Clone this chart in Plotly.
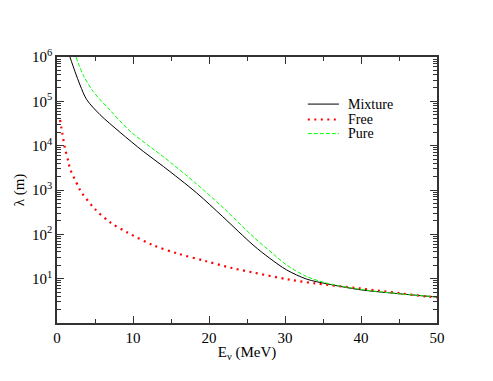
import plotly.graph_objects as go

# Mixture (solid black)
mix_x = [1.7, 2.37, 3.03, 3.9, 5.66, 8.3, 11.36, 14.0, 18.4, 21.8, 25.8, 28.0, 30.2, 32.85, 35.5, 39.9, 45.0, 50.0]
mix_y = [1e6, 4.68e5, 2.34e5, 1.1e5, 5.0e4, 2.0e4, 7.41e3, 3.39e3, 851, 251, 57.5, 28.8, 15.8, 9.77, 7.67, 5.62, 4.57, 3.85]

# Free (dotted red)
free_x = [0.4, 0.7, 1.05, 1.5, 1.7, 2.8, 3.25, 5.0, 7.0, 9.4, 12.6, 16.0, 19.5, 23.0, 25.8, 30.2, 33.7, 39.9, 48.6, 50.0]
free_y = [3.8e4, 1.9e4, 8.7e3, 4.4e3, 3.1e3, 1.2e3, 870, 372, 186, 107, 57.5, 36.3, 25.1, 17.4, 13.8, 9.77, 7.94, 6.03, 3.98, 3.8]

# Pure (dashed green)
pure_x = [2.5, 3.46, 4.78, 6.97, 9.6, 12.2, 14.0, 18.4, 22.0, 25.8, 28.5, 30.2, 32.85, 35.5, 39.9, 45.0, 50.0]
pure_y = [1e6, 3.89e5, 1.66e5, 6.31e4, 2.14e4, 9.55e3, 5.62e3, 1.35e3, 380, 89.1, 35.5, 20.4, 11.2, 7.94, 5.75, 4.57, 3.89]

series_names = ["Mixture", "Free", "Pure"]
series_colors = ["black", "#ff0000", "#00ff00"]
series_dash = ["solid", "2px,4.5px", "4px,2px"]
series_width = [1, 2.2, 1]

ytick_vals = [10, 100, 1000, 1e4, 1e5, 1e6]
ytick_text = ["10<sup>1</sup>", "10<sup>2</sup>", "10<sup>3</sup>", "10<sup>4</sup>", "10<sup>5</sup>", "10<sup>6</sup>"]

font = "Liberation Serif, Times New Roman, serif"

fig = go.Figure()
for xs, ys, i in [(mix_x, mix_y, 0), (free_x, free_y, 1), (pure_x, pure_y, 2)]:
    fig.add_trace(go.Scatter(x=xs, y=ys, mode="lines", name=series_names[i], showlegend=False,
                             line=dict(color=series_colors[i], width=series_width[i],
                                       dash=series_dash[i], shape="spline", smoothing=0.9)))

axis_common = dict(showline=True, linecolor="#333333", linewidth=1.5, mirror="allticks",
                   ticks="inside", tickcolor="#333333", tickwidth=1.2, showgrid=False,
                   zeroline=False, automargin=False,
                   tickfont=dict(family=font, size=15, color="black"))

fig.update_xaxes(range=[0, 50], tick0=0, dtick=10, ticklen=7,
                 minor=dict(ticks="inside", dtick=5, ticklen=4, tickcolor="#333333", showgrid=False),
                 title=dict(text="E<sub>ν</sub> (MeV)", font=dict(family=font, size=15, color="black"), standoff=2),
                 **axis_common)
fig.update_yaxes(type="log", range=[0, 6], tickvals=ytick_vals, ticktext=ytick_text, ticklen=7,
                 minor=dict(ticks="inside", dtick="D1", ticklen=4, tickcolor="#333333", showgrid=False),
                 title=dict(text="λ (m)", font=dict(family=font, size=15, color="black"), standoff=4),
                 **axis_common)

# manual legend (paper coordinates)
leg_rows = [0.823, 0.765, 0.712]
for i, yy in enumerate(leg_rows):
    fig.add_shape(type="line", xref="paper", yref="paper", x0=0.66, x1=0.742, y0=yy, y1=yy,
                  line=dict(color=series_colors[i], width=series_width[i], dash=series_dash[i]))
    fig.add_annotation(xref="paper", yref="paper", x=0.763, y=yy, text=series_names[i],
                       showarrow=False, xanchor="left", yanchor="middle", borderpad=0,
                       font=dict(family=font, size=14, color="black"))

# page body has an 8px default margin: figure is shrunk by 8px and margins compensated
fig.update_layout(
    width=485, height=373,
    margin=dict(l=49, r=56, t=49, b=58),
    paper_bgcolor="white", plot_bgcolor="white",
    font=dict(family=font, color="black"),
    showlegend=False,
)

fig.write_html("out.html")
